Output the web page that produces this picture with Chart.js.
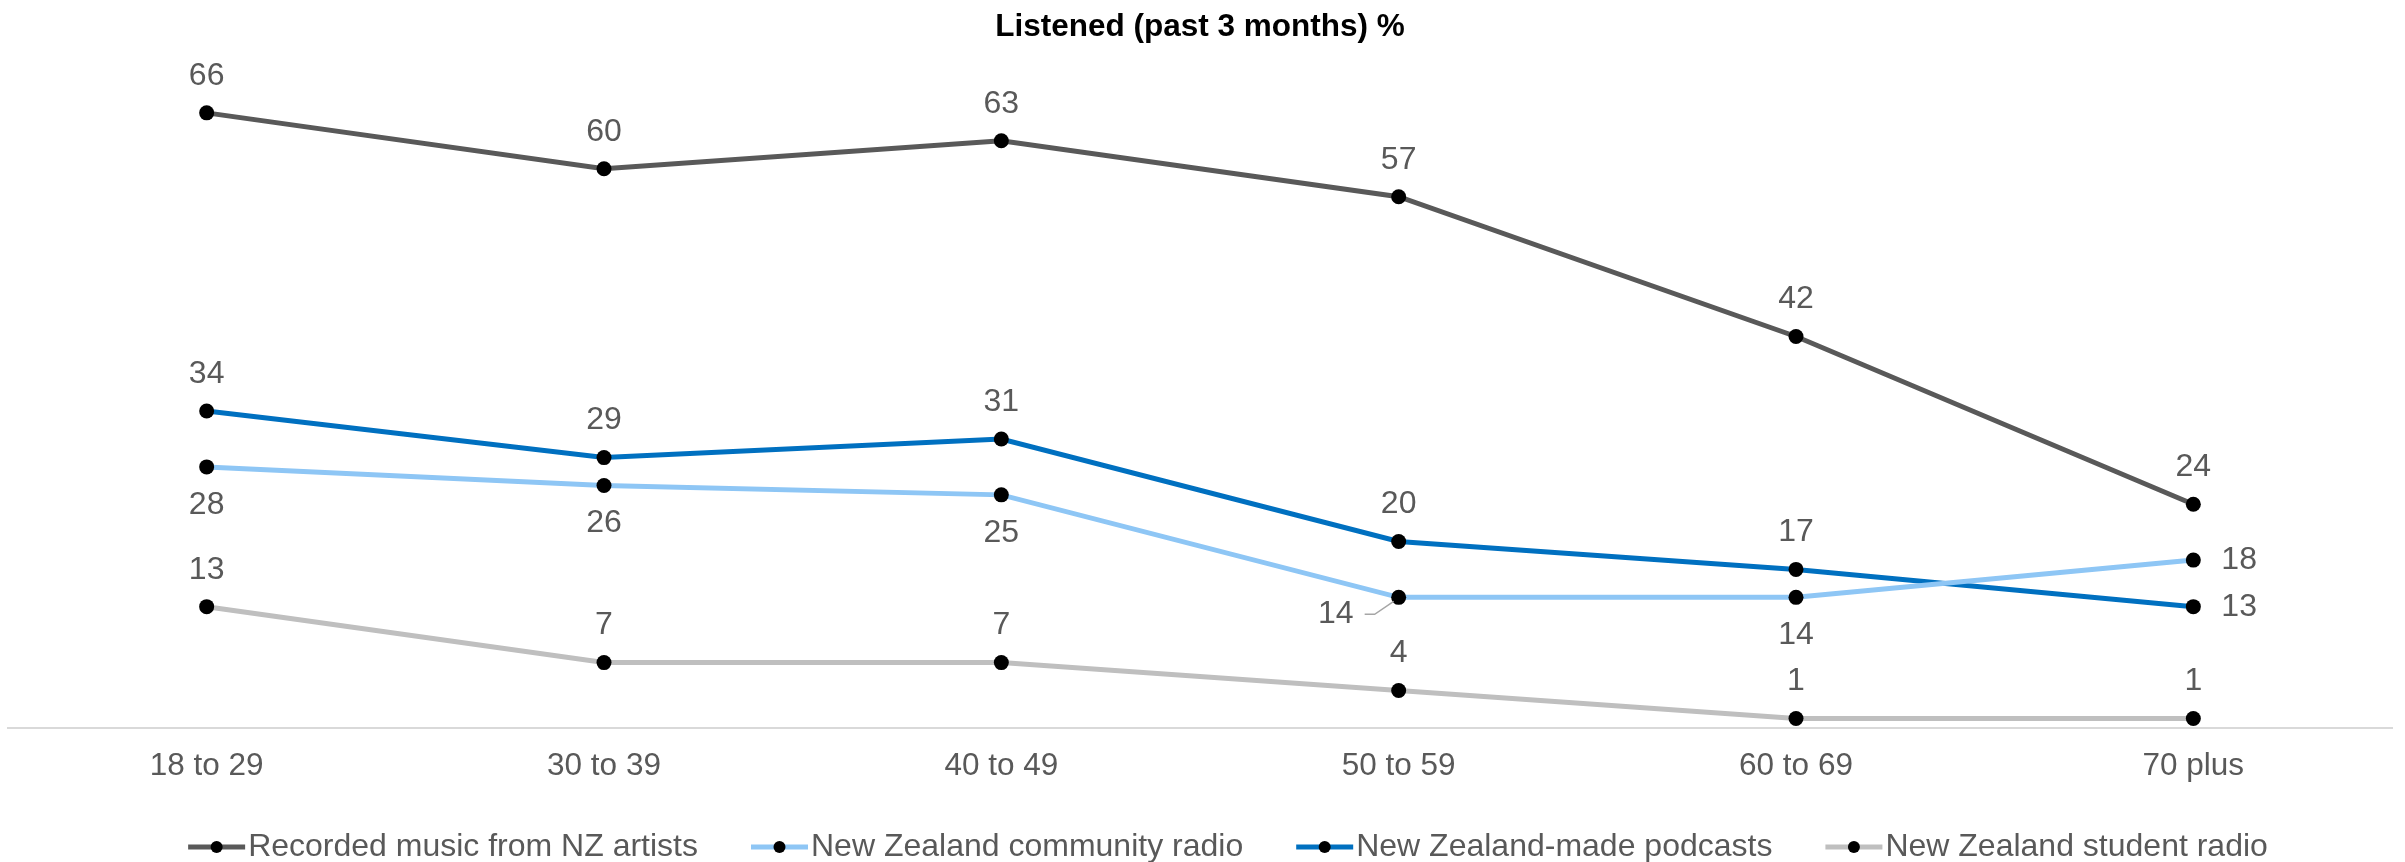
<!DOCTYPE html>
<html>
<head>
<meta charset="utf-8">
<title>Listened (past 3 months) %</title>
<script src="https://cdn.jsdelivr.net/npm/chart.js@4.4.1/dist/chart.umd.min.js"></script>
<style>
    html, body { margin: 0; padding: 0; background: #fff; }
    #wrap { width: 2405px; height: 862px; }
</style>
</head>
<body>
<div id="wrap"><canvas id="listenChart" width="2405" height="862"></canvas></div>
<script>
const ageGroups = ['18 to 29', '30 to 39', '40 to 49', '50 to 59', '60 to 69', '70 plus'];
const nzArtists = [66, 60, 63, 57, 42, 24];
const communityRadio = [28, 26, 25, 14, 14, 18];
const nzPodcasts = [34, 29, 31, 20, 17, 13];
const studentRadio = [13, 7, 7, 4, 1, 1];
const seriesNames = [
    'Recorded music from NZ artists',
    'New Zealand community radio',
    'New Zealand-made podcasts',
    'New Zealand student radio'
];

const FONT = '"Liberation Sans", Arial, sans-serif';
const TEXT_GREY = '#595959';

// where each value label sits relative to its point
const labelSides = [
    ['up', 'up', 'up', 'up', 'up', 'up'],
    ['down', 'down', 'down', 'leader', 'down', 'right'],
    ['up', 'up', 'up', 'up', 'up', 'right'],
    ['up', 'up', 'up', 'up', 'up', 'up']
];

function makeSeries(label, values, color, sides) {
    return {
        label: label,
        data: values,
        borderColor: color,
        backgroundColor: color,
        borderWidth: 5,
        pointRadius: 7.5,
        pointHoverRadius: 7.5,
        pointBackgroundColor: '#000',
        pointBorderColor: '#000',
        pointBorderWidth: 0,
        tension: 0,
        fill: false,
        labelSides: sides
    };
}

const pointLabels = {
    id: 'pointLabels',
    afterDatasetsDraw(chart) {
        const ctx = chart.ctx;
        ctx.save();
        ctx.font = '32px ' + FONT;
        ctx.fillStyle = TEXT_GREY;
        chart.data.datasets.forEach((ds, i) => {
            const meta = chart.getDatasetMeta(i);
            meta.data.forEach((pt, j) => {
                const side = ds.labelSides[j];
                let x = pt.x;
                let y = pt.y;
                ctx.textAlign = 'center';
                ctx.textBaseline = 'middle';
                if (side === 'up') {
                    y -= 37;
                } else if (side === 'down') {
                    y += 38;
                } else if (side === 'right') {
                    ctx.textAlign = 'left';
                    x += 28;
                } else if (side === 'leader') {
                    ctx.textAlign = 'right';
                    x -= 45;
                    y += 17;
                    ctx.strokeStyle = '#A6A6A6';
                    ctx.lineWidth = 1.5;
                    ctx.beginPath();
                    ctx.moveTo(pt.x - 34, pt.y + 17);
                    ctx.lineTo(pt.x - 24, pt.y + 17);
                    ctx.lineTo(pt.x - 5, pt.y + 4);
                    ctx.stroke();
                }
                ctx.fillText(String(ds.data[j]), x, y);
            });
        });
        ctx.restore();
    }
};

// legend with a short line and a dot for each series
const lineLegend = {
    id: 'lineLegend',
    afterDraw(chart) {
        const ctx = chart.ctx;
        const area = chart.chartArea;
        const symW = 57, textGap = 3, itemGap = 53;
        ctx.save();
        ctx.font = '32px ' + FONT;
        const items = chart.data.datasets.map(ds => ({ ds: ds, w: ctx.measureText(ds.label).width }));
        const total = items.reduce((s, it) => s + symW + textGap + it.w, 0) + itemGap * (items.length - 1);
        let x = (area.left + area.right) / 2 + 28 - total / 2;
        const y = chart.height - 15;
        items.forEach(it => {
            ctx.strokeStyle = it.ds.borderColor;
            ctx.lineWidth = 5;
            ctx.beginPath();
            ctx.moveTo(x, y);
            ctx.lineTo(x + symW, y);
            ctx.stroke();
            ctx.fillStyle = '#000';
            ctx.beginPath();
            ctx.arc(x + symW / 2, y, 6, 0, Math.PI * 2);
            ctx.fill();
            ctx.fillStyle = TEXT_GREY;
            ctx.textAlign = 'left';
            ctx.textBaseline = 'middle';
            ctx.fillText(it.ds.label, x + symW + textGap, y);
            x += symW + textGap + it.w + itemGap;
        });
        ctx.restore();
    }
};

new Chart(document.getElementById('listenChart'), {
    type: 'line',
    data: {
        labels: ageGroups,
        datasets: [
            makeSeries(seriesNames[0], nzArtists, '#595959', labelSides[0]),
            makeSeries(seriesNames[1], communityRadio, '#8EC6F5', labelSides[1]),
            makeSeries(seriesNames[2], nzPodcasts, '#0070C0', labelSides[2]),
            makeSeries(seriesNames[3], studentRadio, '#BFBFBF', labelSides[3])
        ]
    },
    options: {
        responsive: false,
        animation: false,
        devicePixelRatio: 1,
        layout: { padding: { top: 0, left: 8, right: 13, bottom: 58 } },
        plugins: {
            legend: { display: false },
            tooltip: { enabled: false },
            title: {
                display: true,
                text: 'Listened (past 3 months) %',
                color: '#000',
                font: { family: FONT, size: 31.5, weight: 'bold' },
                padding: { top: 8, bottom: 29.8 }
            }
        },
        scales: {
            x: {
                offset: true,
                grid: { display: false, drawTicks: false },
                border: { display: true, color: '#D9D9D9', width: 2 },
                ticks: { color: TEXT_GREY, font: { family: FONT, size: 31.5 }, padding: 19.2 }
            },
            y: {
                display: false,
                min: 0,
                max: 70
            }
        }
    },
    plugins: [pointLabels, lineLegend]
});
</script>
</body>
</html>
